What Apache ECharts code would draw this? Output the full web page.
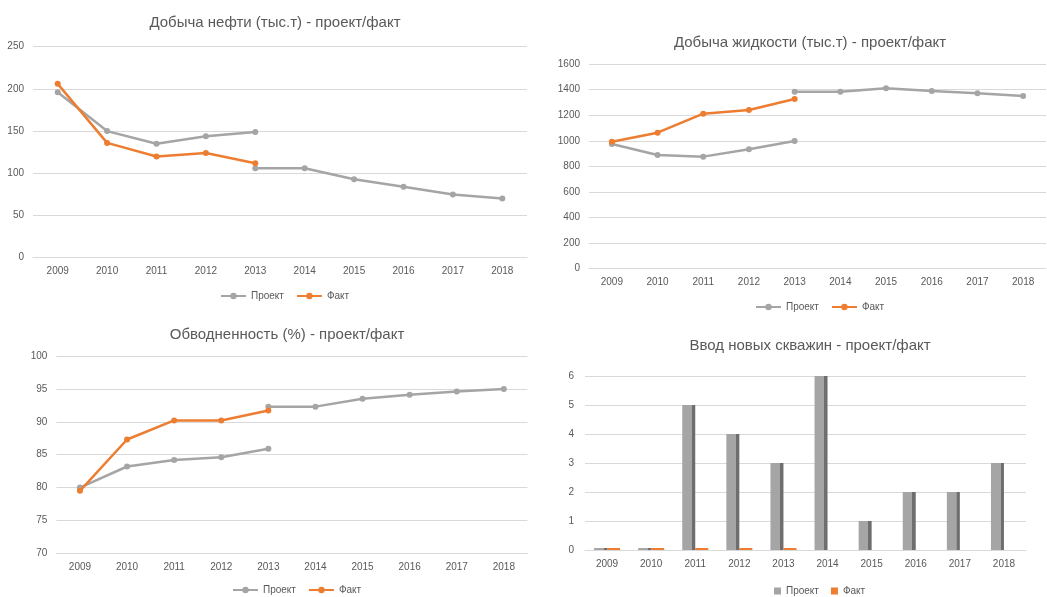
<!DOCTYPE html>
<html><head><meta charset="utf-8">
<script src="https://cdn.jsdelivr.net/npm/echarts@6/dist/echarts.min.js"></script>
<style>html,body{margin:0;padding:0;background:#fff}#c{width:1047px;height:597px}</style>
</head><body><div id="c"></div>
<script>
const years = ['2009','2010','2011','2012','2013','2014','2015','2016','2017','2018'];

// Добыча нефти
const oilProjectA = [196,150,135,144,149,null,null,null,null,null];
const oilProjectB = [null,null,null,null,106,106,93,84,75,70];
const oilFact     = [206,136,120,124,112,null,null,null,null,null];

// Добыча жидкости
const liqProjectA = [974,889,876,933,998,null,null,null,null,null];
const liqProjectB = [null,null,null,null,1384,1384,1410,1389,1371,1350];
const liqFact     = [993,1063,1212,1240,1326,null,null,null,null,null];

// Обводненность
const watProjectA = [80.0,83.2,84.2,84.6,85.9,null,null,null,null,null];
const watProjectB = [null,null,null,null,92.3,92.3,93.5,94.1,94.6,95.0];
const watFact     = [79.5,87.3,90.2,90.2,91.7,null,null,null,null,null];

// Ввод новых скважин
const wellProject = [0,0,5,4,3,6,1,2,2,3];
const wellFact    = [0,0,0,0,0,null,null,null,null,null];

const titles = ['Добыча нефти (тыс.т) - проект/факт','Добыча жидкости (тыс.т) - проект/факт','Обводненность (%) - проект/факт','Ввод новых скважин - проект/факт'];

const GRAY = '#A5A5A5', ORANGE = '#ED7D31', TXT = '#595959', GRID = '#D9D9D9';
const FONT = 'Liberation Sans, Arial, sans-serif';

const grids = [
  {left:33, top:46.7, width:494, height:211},
  {left:589, top:64, width:457, height:204.7},
  {left:56.4, top:356, width:471, height:197.3},
  {left:585, top:376, width:441, height:174}
];
const yCfg = [
  {min:0,max:250,interval:50},
  {min:0,max:1600,interval:200},
  {min:70,max:100,interval:5},
  {min:0,max:6,interval:1}
];
const titlePos = [[270,10],[805,30],[282,322],[805,333]];
const legendPos = [[215,286],[750,297],[227,580],[769,581]];

const xAxis = grids.map((g,i)=>({
  type:'category', gridIndex:i, data:years, boundaryGap:true,
  axisLine:{show:true,lineStyle:{color:GRID,width:1}},
  axisTick:{show:false},
  axisLabel:{color:TXT,fontSize:10,fontFamily:FONT,margin:9}
}));
const yAxis = grids.map((g,i)=>Object.assign({
  type:'value', gridIndex:i,
  axisLine:{show:false}, axisTick:{show:false},
  splitLine:{lineStyle:{color:GRID,width:1}},
  axisLabel:{color:TXT,fontSize:10,fontFamily:FONT,margin:i===3?11:9, formatter:v=>String(v)}
}, yCfg[i]));

function lineS(name, data, color, idx){
  return {type:'line', name, data, xAxisIndex:idx, yAxisIndex:idx,
    connectNulls:false, symbol:'circle', symbolSize:6,
    lineStyle:{color, width:2.5}, itemStyle:{color}, z: name==='Факт'?3:2};
}
const series = [
  lineS('Проект', oilProjectA, GRAY, 0), lineS('Проект', oilProjectB, GRAY, 0), lineS('Факт', oilFact, ORANGE, 0),
  lineS('Проект', liqProjectA, GRAY, 1), lineS('Проект', liqProjectB, GRAY, 1), lineS('Факт', liqFact, ORANGE, 1),
  lineS('Проект', watProjectA, GRAY, 2), lineS('Проект', watProjectB, GRAY, 2), lineS('Факт', watFact, ORANGE, 2),
  {type:'bar', name:'Проект', data:wellProject, xAxisIndex:3, yAxisIndex:3, barWidth:13, barGap:'0%', barMinHeight:2,
    itemStyle:{color:{type:'linear',x:0,y:0,x2:1,y2:0,colorStops:[
      {offset:0,color:'#A5A5A5'},{offset:0.74,color:'#A5A5A5'},{offset:0.75,color:'#6E6E6E'},{offset:1,color:'#6E6E6E'}]}}},
  {type:'bar', name:'Факт', data:wellFact, xAxisIndex:3, yAxisIndex:3, barWidth:13, barGap:'0%', barMinHeight:2,
    itemStyle:{color:ORANGE}}
];

const option = {
  animation:false,
  title: titles.map((t,i)=>({text:t, left:titlePos[i][0], top:titlePos[i][1], textAlign:'center',
    textStyle:{color:TXT,fontSize:15,fontWeight:'normal',fontFamily:FONT}})),
  legend: legendPos.map((p,i)=>({
    left:p[0], top:p[1], orient:'horizontal', itemGap:12,
    itemWidth: i===3?7:25, itemHeight: i===3?7:8,
    icon: i===3?'rect':undefined,
    data: i===3 ? [{name:'Проект',itemStyle:{color:GRAY}},{name:'Факт',itemStyle:{color:ORANGE}}] : ['Проект','Факт'],
    textStyle:{color:TXT,fontSize:10,fontFamily:FONT}, selectedMode:false
  })),
  grid: grids,
  xAxis, yAxis, series
};
const chart = echarts.init(document.getElementById('c'), null, {renderer:'canvas'});
chart.setOption(option);
</script></body></html>
